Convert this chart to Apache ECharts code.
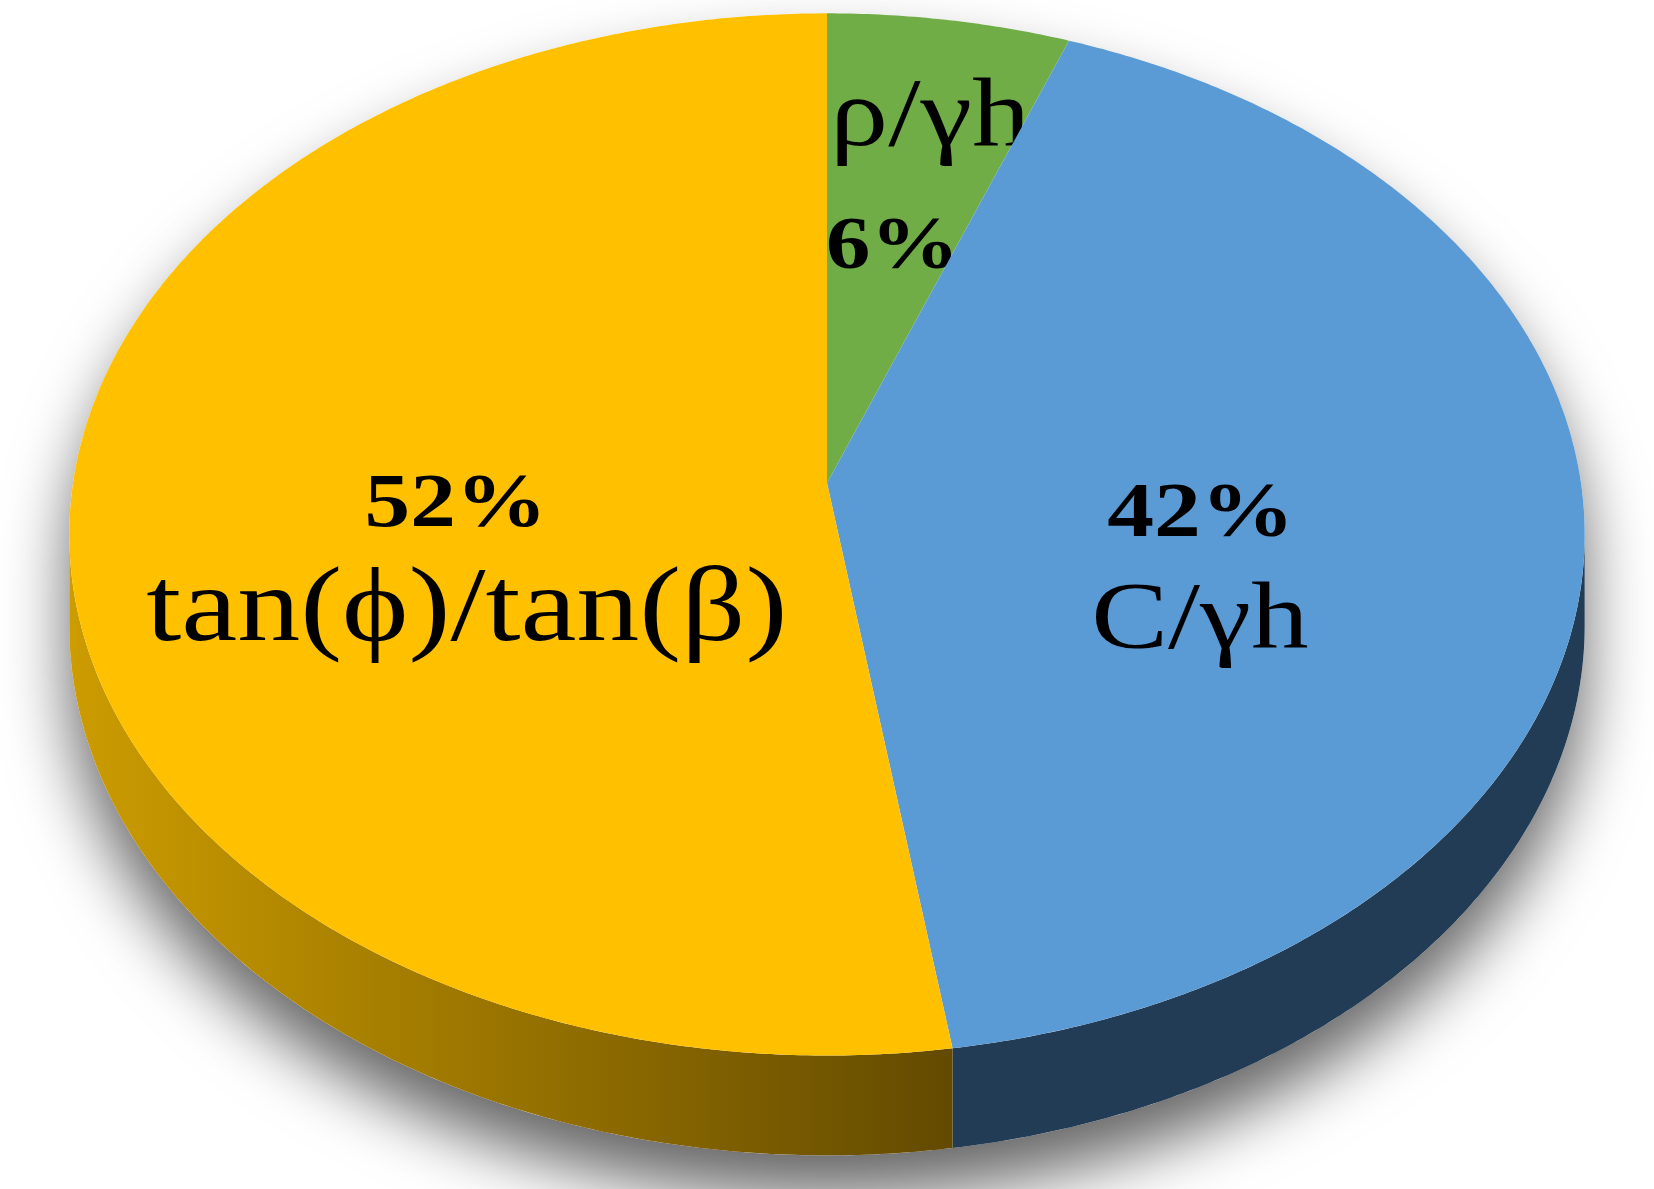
<!DOCTYPE html>
<html>
<head>
<meta charset="utf-8">
<script src="https://cdn.jsdelivr.net/npm/echarts@6/dist/echarts.min.js"></script>
<style>
  html, body { margin: 0; padding: 0; background: #fff; }
  #main { width: 1654px; height: 1189px; }
</style>
</head>
<body>
<div id="main"></div>
<script>
// slices, clockwise from 12 o'clock
const sliceNames = ['ρ/γh', 'C/γh', 'tan(ϕ)/tan(β)'];
const sliceValues = [5.7, 41.9, 52.4];

const total = sliceValues.reduce((a, b) => a + b, 0);

// tilted disc with a bit of perspective
const CX = 827, CY = 483;   // projected centre of the top face
const RX = 754, RY = 516;
const K = 0.0987;           // perspective strength
const DEPTH = 90;           // thickness of the disc

const topColors = ['#70AD47', '#5B9BD5', '#FFC000'];
const sideColors = [
  '#3d6127',
  '#233C55',
  {
    type: 'linear', x: 69, y: 0, x2: 952, y2: 0, global: true,
    colorStops: [{offset: 0, color: '#cc9c00'}, {offset: 1, color: '#634a00'}]
  }
];

// label placement relative to the slice mid point: [kind, dx, dy, fontSize]
const labelLayout = [
  {align: 'left', lines: [['name', -67, -98, 97], ['pct', -71, 31, 74]]},
  {align: 'center', lines: [['pct', -41, 3, 78], ['name', -42, 110, 96]]},
  {align: 'center', lines: [['pct', 44, 2, 76], ['name', 55, 108, 105]]}
];
const TEXT_STRETCH = 1.2;

function proj(theta, r, down) {
  const u = r * Math.sin(theta);
  const v = -r * Math.cos(theta);
  const w = 1 - K * v;
  return [CX + RX * u / w, CY + RY * v / w + (down ? DEPTH / w : 0)];
}

const STEP = Math.PI / 360;
const FRONT0 = Math.acos(-K);               // right extreme
const FRONT1 = 2 * Math.PI - Math.acos(-K); // left extreme

function arc(a0, a1, down) {
  const pts = [];
  const n = Math.max(2, Math.ceil(Math.abs(a1 - a0) / STEP));
  for (let i = 0; i <= n; i++) {
    pts.push(proj(a0 + (a1 - a0) * i / n, 1, down));
  }
  return pts;
}

function renderSlice(params, api) {
  const idx = params.dataIndex;
  let before = 0;
  for (let i = 0; i < idx; i++) before += sliceValues[i];
  const a0 = before / total * Math.PI * 2;
  const a1 = (before + api.value(0)) / total * Math.PI * 2;
  const children = [];

  // visible side wall
  const s0 = Math.max(a0, FRONT0), s1 = Math.min(a1, FRONT1);
  if (s1 > s0) {
    const pts = arc(s0, s1, false).concat(arc(s1, s0, true));
    children.push({
      type: 'polygon',
      shape: {points: pts},
      style: {fill: sideColors[idx]}
    });
  }

  // top face
  children.push({
    type: 'polygon',
    shape: {points: [[CX, CY]].concat(arc(a0, a1, false))},
    style: {fill: topColors[idx]}
  });

  // labels
  const mid = proj((a0 + a1) / 2, 0.55, false);
  const pct = Math.round(api.value(0) / total * 100) + '%';
  const lay = labelLayout[idx];
  lay.lines.forEach((ln) => {
    const isPct = ln[0] === 'pct';
    children.push({
      type: 'text',
      x: mid[0] + ln[1],
      y: mid[1] + ln[2],
      scaleX: TEXT_STRETCH,
      style: {
        text: isPct ? pct : sliceNames[idx],
        x: 0,
        y: 0,
        fill: '#000',
        fontFamily: '"Liberation Serif", "DejaVu Serif", serif',
        fontSize: ln[3],
        fontWeight: isPct ? 'bold' : 'normal',
        align: lay.align,
        verticalAlign: 'middle'
      }
    });
  });
  return {type: 'group', children: children};
}

// soft drop shadow under the whole disc
function renderShadow() {
  const pts = arc(FRONT0, FRONT1, true).concat(arc(FRONT1, FRONT0 + Math.PI * 2, false));
  return {
    type: 'polygon',
    shape: {points: pts},
    style: {
      fill: '#ffffff',
      shadowBlur: 65,
      shadowColor: 'rgba(0,0,0,0.6)',
      shadowOffsetY: 40
    }
  };
}

const chart = echarts.init(document.getElementById('main'));
chart.setOption({
  animation: false,
  series: [
    {
      type: 'custom',
      coordinateSystem: 'none',
      silent: true,
      renderItem: renderShadow,
      data: [0]
    },
    {
      type: 'custom',
      coordinateSystem: 'none',
      silent: true,
      renderItem: renderSlice,
      data: sliceValues.map((v, i) => ({name: sliceNames[i], value: v}))
    }
  ]
});
</script>
</body>
</html>
